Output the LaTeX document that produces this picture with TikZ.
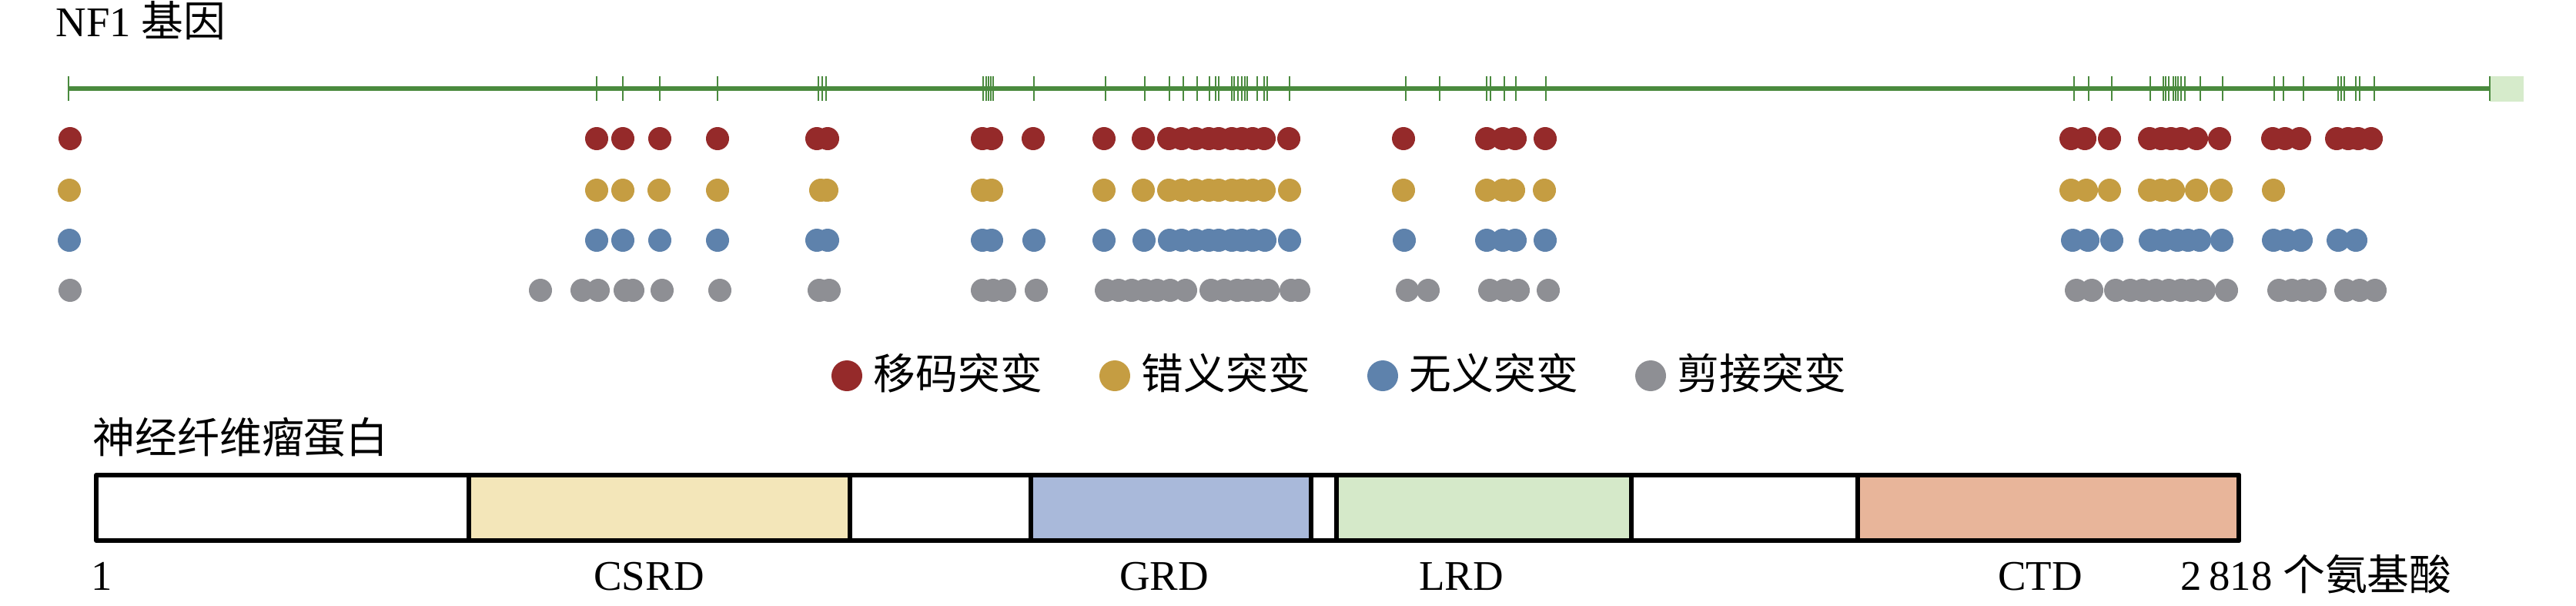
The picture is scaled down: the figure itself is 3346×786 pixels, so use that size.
\documentclass[tikz,border=0pt]{standalone}
\usepackage{fontspec}
\setmainfont{Liberation Serif}
\newfontfamily\cjk{Noto Sans CJK SC}
\definecolor{genegreen}{HTML}{4A8A3E}
\definecolor{genelight}{HTML}{D6EBCB}
\definecolor{fsred}{HTML}{952A2A}
\definecolor{msgold}{HTML}{C59D42}
\definecolor{nsblue}{HTML}{5E82AC}
\definecolor{spgray}{HTML}{8E8F94}
\definecolor{csrdfill}{HTML}{F3E6B9}
\definecolor{grdfill}{HTML}{A9B9DA}
\definecolor{lrdfill}{HTML}{D5E9C9}
\definecolor{ctdfill}{HTML}{E8B59A}
\begin{document}
\begin{tikzpicture}[x=0.1mm,y=-0.1mm,line join=round,
	txt/.style={inner sep=0pt,font=\fontsize{15.6pt}{18pt}\selectfont},
	exon/.style={genegreen,line width=0.28mm},
	dot/.style={radius=1.5mm},
	dom/.style={draw=black,line width=0.6mm}]
	\useasboundingbox (0,0) rectangle (3346,786);
	\node[txt,anchor=base west] (gene) at (72,47) {NF1 {\cjk 基因}};
	\draw[genegreen,line width=0.6mm] (89,115)--(3234,115);
	\fill[genelight] (3234,99) rectangle (3278,132);
	\foreach \x in {89,775,809,857,932,1063,1068,1073,1277,1281,1284,1287,1290,1343,1436,1487,1519,1537,1555,1571,1579,1583,1600,1603,1608,1613,1617,1620,1633,1642,1646,1675,1826,1870,1931,1936,1954,1969,2008,2694,2713,2743,2793,2810,2813,2817,2823,2826,2829,2833,2838,2858,2887,2954,2966,2992,3037,3041,3045,3060,3065,3084,3234} \draw[exon] (\x,99)--(\x,131);
	\foreach \x in {91,775,809,857,932,1061,1075,1276,1288,1342,1434,1485,1518,1535,1553,1570,1583,1600,1613,1627,1642,1674,1823,1931,1952,1968,2007,2690,2708,2740,2792,2807,2820,2833,2853,2883,2952,2968,2987,3035,3050,3063,3080} \fill[fsred] (\x,180) circle[dot];
	\foreach \x in {90,775,809,856,932,1066,1074,1276,1288,1434,1485,1518,1535,1553,1570,1583,1600,1613,1627,1642,1675,1823,1931,1952,1966,2006,2690,2710,2740,2792,2807,2823,2853,2885,2953} \fill[msgold] (\x,247) circle[dot];
	\foreach \x in {90,775,809,857,932,1061,1075,1276,1288,1343,1434,1486,1519,1535,1553,1570,1583,1600,1613,1627,1643,1675,1824,1931,1952,1968,2007,2692,2712,2743,2793,2810,2828,2842,2857,2886,2953,2970,2989,3037,3060} \fill[nsblue] (\x,312) circle[dot];
	\foreach \x in {91,702,756,777,812,822,860,935,1064,1077,1276,1290,1305,1346,1437,1453,1470,1487,1503,1520,1540,1573,1590,1607,1620,1633,1647,1677,1687,1828,1855,1935,1954,1972,2011,2697,2717,2748,2767,2783,2800,2817,2833,2847,2863,2892,2960,2977,2992,3007,3047,3065,3085} \fill[spgray] (\x,377) circle[dot];
	\foreach \c/\t [count=\i] in {fsred/移码突变,msgold/错义突变,nsblue/无义突变,spgray/剪接突变}{
		\fill[\c] ({1100+348*(\i-1)},488) circle[radius=2mm];
		\node[txt,anchor=base west] (leg\i) at ({1134+348*(\i-1)},505) {\cjk \t};
	}
	\node[txt,anchor=base west] (protein) at (120,588) {\cjk 神经纤维瘤蛋白};
	\foreach \a/\b/\c in {609/1104/csrdfill,1339/1703/grdfill,1736/2119/lrdfill,2413/2908/ctdfill} \draw[dom,fill=\c] (\a,617) rectangle (\b,702);
	\draw[dom] (125,617) rectangle (2908,702) (609,617)--(609,702) (1104,617)--(1104,702) (1703,617)--(1703,702) (2119,617)--(2119,702);
	\node[txt,anchor=base] (first) at (132,766) {1};
	\node[txt,anchor=base] (csrd) at (843,766) {CSRD};
	\node[txt,anchor=base] (grd) at (1512,766) {GRD};
	\node[txt,anchor=base] (lrd) at (1898,766) {LRD};
	\node[txt,anchor=base] (ctd) at (2650,766) {CTD};
	\node[txt,anchor=base west] (last) at (2832,766) {2\,818 {\cjk 个氨基酸}};
\end{tikzpicture}
\end{document}
